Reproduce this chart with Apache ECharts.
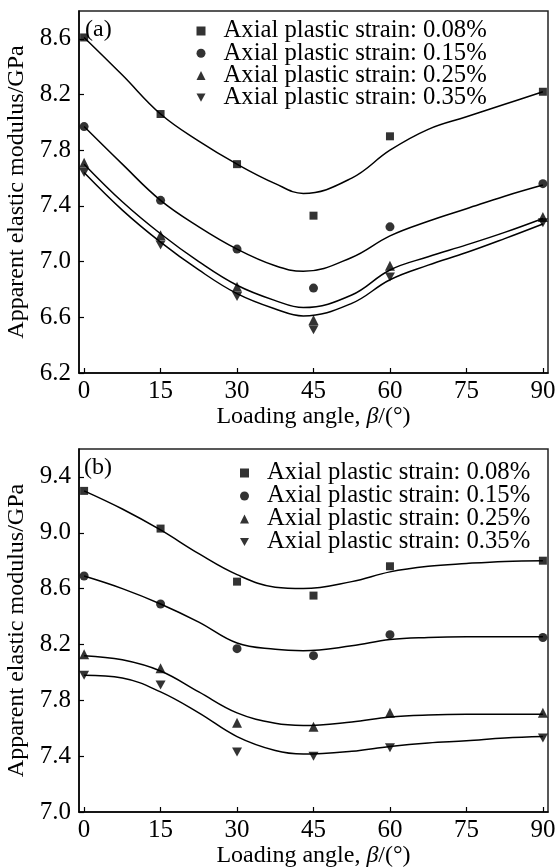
<!DOCTYPE html>
<html>
<head>
<meta charset="utf-8">
<script src="https://cdn.jsdelivr.net/npm/echarts@6/dist/echarts.min.js"></script>
<style>
  html, body { margin: 0; padding: 0; background: #fff; }
  #chart { width: 556px; height: 867px; }
</style>
</head>
<body>
<div id="chart"></div>
<script>
// Measured loading angles (degrees)
const angles = [0, 15, 30, 45, 60, 90];
const strainLabels = [
  'Axial plastic strain: 0.08%',
  'Axial plastic strain: 0.15%',
  'Axial plastic strain: 0.25%',
  'Axial plastic strain: 0.35%'
];

// Panel (a): apparent elastic modulus, GPa
const a008 = [8.61, 8.06, 7.70, 7.33, 7.90, 8.22];
const a015 = [7.97, 7.44, 7.09, 6.81, 7.25, 7.56];
const a025 = [7.71, 7.19, 6.82, 6.58, 6.97, 7.32];
const a035 = [7.64, 7.12, 6.75, 6.51, 6.89, 7.28];

// Panel (b): apparent elastic modulus, GPa
const b008 = [9.30, 9.03, 8.65, 8.55, 8.76, 8.80];
const b015 = [8.69, 8.49, 8.17, 8.12, 8.27, 8.25];
const b025 = [8.13, 8.03, 7.64, 7.61, 7.71, 7.71];
const b035 = [7.98, 7.91, 7.43, 7.40, 7.46, 7.53];

// Fitted trend curves, sampled along the loading angle
const fitAngles = [0, 7.5, 15, 22.5, 30, 37.5, 43, 52.5, 60, 67.5, 75, 82.5, 90];
const fitA008 = [8.61, 8.34, 8.06, 7.865, 7.70, 7.56, 7.49, 7.60, 7.80, 7.95, 8.04, 8.13, 8.22];
const fitA015 = [7.97, 7.70, 7.44, 7.25, 7.09, 6.97, 6.93, 7.03, 7.185, 7.29, 7.38, 7.47, 7.55];
const fitA025 = [7.70, 7.43, 7.20, 7.00, 6.83, 6.72, 6.67, 6.76, 6.94, 7.035, 7.12, 7.21, 7.31];
const fitA035 = [7.64, 7.37, 7.14, 6.94, 6.77, 6.66, 6.61, 6.70, 6.87, 6.975, 7.065, 7.165, 7.27];
const fitB008 = [9.30, 9.17, 9.02, 8.85, 8.70, 8.61, 8.60, 8.65, 8.72, 8.76, 8.78, 8.795, 8.80];
const fitB015 = [8.69, 8.60, 8.49, 8.36, 8.21, 8.165, 8.155, 8.19, 8.235, 8.25, 8.255, 8.255, 8.255];
const fitB025 = [8.12, 8.09, 8.01, 7.86, 7.71, 7.635, 7.62, 7.645, 7.68, 7.695, 7.70, 7.70, 7.70];
const fitB035 = [7.98, 7.96, 7.86, 7.71, 7.54, 7.44, 7.415, 7.435, 7.47, 7.495, 7.51, 7.53, 7.54];

// Tick labels
const xTicks = [0, 15, 30, 45, 60, 75, 90];
const yTicksA = [6.2, 6.6, 7.0, 7.4, 7.8, 8.2, 8.6];
const yTicksB = [7.0, 7.4, 7.8, 8.2, 8.6, 9.0, 9.4];

const FONT = 'Liberation Serif';
const FS = 24;
const TICK_FS = 25;
const LEGEND_FS = 24.7;
const markers = [
  { symbol: 'rect', size: 8 },
  { symbol: 'circle', size: 9 },
  { symbol: 'triangle', size: 10 },
  { symbol: 'path://M0,0L10,0L5,9Z', size: 10 }
];

function pairs(xs, ys) { return xs.map((x, i) => [x, ys[i]]); }

function xAxisFor(gridIndex) {
  return {
    type: 'value', gridIndex, min: -1, max: 91,
    name: 'Loading angle, {i|β}/(°)',
    nameLocation: 'middle', nameGap: 24,
    nameTextStyle: {
      fontFamily: FONT, fontSize: FS, color: '#000',
      rich: { i: { fontFamily: FONT, fontSize: FS, fontStyle: 'italic', color: '#000' } }
    },
    axisLine: { onZero: false, lineStyle: { color: '#000', width: 1.5 } },
    axisTick: { inside: true, length: 5, customValues: xTicks, lineStyle: { color: '#000', width: 1.2 } },
    axisLabel: { customValues: xTicks, fontFamily: FONT, fontSize: TICK_FS, color: '#000', margin: 6 },
    splitLine: { show: false }
  };
}

function yAxisFor(gridIndex, min, max, ticks) {
  return {
    type: 'value', gridIndex, min, max,
    name: 'Apparent elastic modulus/GPa',
    nameLocation: 'middle', nameGap: 50,
    nameTextStyle: { fontFamily: FONT, fontSize: FS, color: '#000' },
    axisLine: { show: true, onZero: false, lineStyle: { color: '#000', width: 1.5 } },
    axisTick: { show: true, inside: true, length: 5, customValues: ticks, lineStyle: { color: '#000', width: 1.2 } },
    axisLabel: { customValues: ticks, fontFamily: FONT, fontSize: TICK_FS, color: '#000', margin: 8,
                 formatter: v => Number(v).toFixed(1) },
    splitLine: { show: false }
  };
}

function panelSeries(idx, points, fits) {
  const out = [];
  fits.forEach((f, k) => {
    out.push({
      type: 'line', name: 'trend ' + idx + '-' + k,
      xAxisIndex: idx, yAxisIndex: idx,
      data: pairs(fitAngles, f), smooth: 0.4, showSymbol: false,
      lineStyle: { color: '#000', width: 1.5 }, silent: true, z: 2
    });
  });
  points.forEach((p, k) => {
    out.push({
      type: 'scatter', name: strainLabels[k],
      xAxisIndex: idx, yAxisIndex: idx,
      data: pairs(angles, p),
      symbol: markers[k].symbol, symbolSize: markers[k].size,
      symbolKeepAspect: true,
      itemStyle: { color: '#000' }, z: 3
    });
  });
  return out;
}

function legendFor(left, top, gap) {
  return {
    orient: 'vertical', left, top, itemGap: gap, padding: 0,
    itemWidth: 9, itemHeight: 9, selectedMode: false,
    data: strainLabels,
    formatter: n => '{sp|}' + n,
    textStyle: { fontFamily: FONT, fontSize: LEGEND_FS, color: '#000', rich: { sp: { width: 13 } } },
    itemStyle: { color: '#000' }
  };
}

const gridBase = { left: 79, width: 469, show: true, borderColor: '#222', borderWidth: 1.5,
                   containLabel: false, outerBoundsMode: 'none' };

const chart = echarts.init(document.getElementById('chart'), null, { renderer: 'canvas' });
chart.setOption({
  backgroundColor: '#fff',
  animation: false,
  grid: [
    Object.assign({}, gridBase, { top: 11, height: 362 }),
    Object.assign({}, gridBase, { top: 449, height: 363 })
  ],
  xAxis: [xAxisFor(0), xAxisFor(1)],
  yAxis: [yAxisFor(0, 6.2, 8.8, yTicksA), yAxisFor(1, 7.0, 9.6, yTicksB)],
  legend: [legendFor(196.5, 18.5, -2.8), legendFor(240, 460.5, -2)],
  graphic: [
    { type: 'text', left: 85, top: 18, style: { text: '(a)', font: FS + 'px "' + FONT + '"', fill: '#000' } },
    { type: 'text', left: 84, top: 456, style: { text: '(b)', font: FS + 'px "' + FONT + '"', fill: '#000' } }
  ],
  series: [
    ...panelSeries(0, [a008, a015, a025, a035], [fitA008, fitA015, fitA025, fitA035]),
    ...panelSeries(1, [b008, b015, b025, b035], [fitB008, fitB015, fitB025, fitB035])
  ]
});
</script>
</body>
</html>
